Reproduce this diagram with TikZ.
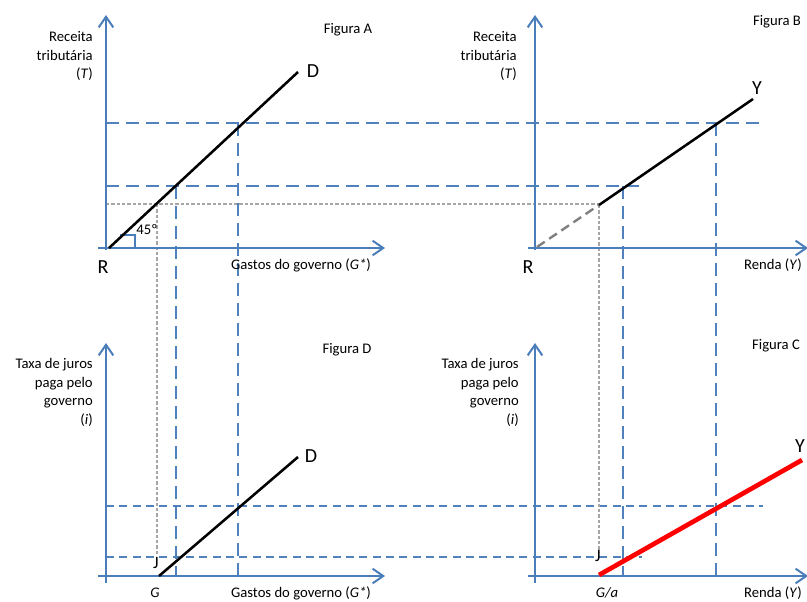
\documentclass[tikz,border=0pt]{standalone}
\usepackage{fontspec}
\setmainfont{Carlito}
\usetikzlibrary{arrows.meta}
\definecolor{axblue}{HTML}{4A7EBB}
\definecolor{dblue}{HTML}{4F81BD}
\definecolor{lgrey}{HTML}{A6A6A6}
\definecolor{mgrey}{HTML}{808080}
\begin{document}
\begin{tikzpicture}[x=0.75pt,y=-0.75pt,
  axis/.style={draw=axblue, line width=1.5pt, -{Straight Barb[length=8pt,width=11pt,line width=1.5pt]}},
  bdash/.style={draw=dblue, line width=1.1pt, dash pattern=on 10pt off 5pt},
  bdashs/.style={draw=dblue, line width=1.1pt, dash pattern=on 6pt off 4pt},
  gdot/.style={draw=lgrey, line width=0.8pt, dash pattern=on 2.5pt off 1.5pt},
  gdash/.style={draw=mgrey, line width=1.8pt, dash pattern=on 7pt off 4pt},
  curveb/.style={draw=black, line width=1.9pt},
  curver/.style={draw=red, line width=3.5pt},
  lbl/.style={font=\fontsize{11}{14}\selectfont, inner sep=0pt},
  big/.style={font=\fontsize{15}{18}\selectfont, inner sep=0pt},
  bigj/.style={font=\fontsize{13}{16}\selectfont, inner sep=0pt},
  ylab/.style={lbl, align=right, anchor=east},
  mark45/.style={draw=axblue, line width=1.1pt}
]
\useasboundingbox (0,0) rectangle (807,601);

% coordinates
\coordinate (Ab) at (106,250); \coordinate (At) at (106,15);
\coordinate (Al) at (98,248);  \coordinate (Ar) at (385,248);
\coordinate (Bb) at (535,250); \coordinate (Bt) at (535,15);
\coordinate (Bl) at (528,248); \coordinate (Br) at (808,248);
\coordinate (Db) at (106,583); \coordinate (Dt) at (106,343);
\coordinate (Dl) at (98,576);  \coordinate (Dr) at (385,576);
\coordinate (Cb) at (535,583); \coordinate (Ct) at (535,343);
\coordinate (Cl) at (528,576); \coordinate (Cr) at (808,576);

\coordinate (h1s) at (106,123); \coordinate (h1e) at (760,123);
\coordinate (h2s) at (106,186); \coordinate (h2e) at (642,186);
\coordinate (g1s) at (106,204); \coordinate (g1e) at (599,204);
\coordinate (h3s) at (106,506); \coordinate (h3e) at (763,506);
\coordinate (h4s) at (106,557); \coordinate (h4e) at (642,557);
\coordinate (v1s) at (176,186); \coordinate (v1e) at (176,576);
\coordinate (v2s) at (238,123); \coordinate (v2e) at (238,576);
\coordinate (v3s) at (623,186); \coordinate (v3e) at (623,576);
\coordinate (v4s) at (716,123); \coordinate (v4e) at (716,576);
\coordinate (g2s) at (157,204); \coordinate (g2e) at (157,555);
\coordinate (g3s) at (599,205); \coordinate (g3e) at (599,552);

\coordinate (dA0) at (109,248); \coordinate (dA1) at (298,72);
\coordinate (yB0) at (537,247); \coordinate (yB1) at (599,205); \coordinate (yB2) at (753,99);
\coordinate (dD0) at (159,576); \coordinate (dD1) at (298,457);
\coordinate (yC0) at (599,575); \coordinate (yC1) at (802,460);
\coordinate (m1) at (120,235); \coordinate (m2) at (135,235); \coordinate (m3) at (135,248);

% dashed guides
\draw[bdash] (h1s) -- (h1e);
\draw[bdash] (h2s) -- (h2e);
\draw[gdot] (g1s) -- (g1e);
\draw[bdashs] (h3s) -- (h3e);
\draw[bdashs] (h4s) -- (h4e);
\draw[bdash] (v1s) -- (v1e);
\draw[bdash] (v2s) -- (v2e);
\draw[bdash] (v3s) -- (v3e);
\draw[bdash] (v4s) -- (v4e);
\draw[gdot] (g2s) -- (g2e);
\draw[gdot] (g3s) -- (g3e);

% axes
\draw[axis] (Ab) -- (At);
\draw[axis] (Al) -- (Ar);
\draw[axis] (Bb) -- (Bt);
\draw[axis] (Bl) -- (Br);
\draw[axis] (Db) -- (Dt);
\draw[axis] (Dl) -- (Dr);
\draw[axis] (Cb) -- (Ct);
\draw[axis] (Cl) -- (Cr);

% 45 degree marker
\draw[mark45] (m1) -- (m2) -- (m3);

% curves
\draw[curveb] (dA0) -- (dA1);
\draw[gdash] (yB0) -- (yB1);
\draw[curveb] (yB1) -- (yB2);
\draw[curveb] (dD0) -- (dD1);
\draw[curver] (yC0) -- (yC1);

% texts
\node[ylab] (tA) at (93,56) {Receita\\tributária\\(\textit{T})};
\node[ylab] (tB) at (517,56) {Receita\\tributária\\(\textit{T})};
\node[ylab] (tD) at (93,392.5) {Taxa de juros\\paga pelo\\governo\\(\textit{i})};
\node[ylab] (tC) at (519,392.5) {Taxa de juros\\paga pelo\\governo\\(\textit{i})};

\node[lbl] (fA) at (348,30) {Figura A};
\node[lbl] (fB) at (777,22) {Figura B};
\node[lbl] (fD) at (347,350) {Figura D};
\node[lbl] (fC) at (776,346) {Figura C};

\node[lbl] (xA) at (301,265) {Gastos do governo (\textit{G*})};
\node[lbl] (xD) at (301,593) {Gastos do governo (\textit{G*})};
\node[lbl] (xB) at (773,265) {Renda (\textit{Y})};
\node[lbl] (xC) at (773,593) {Renda (\textit{Y})};

\node[lbl] (a45) at (147,230) {45º};
\node[lbl] (gD) at (155,593) {\textit{G}};
\node[lbl] (gC) at (607,593) {\textit{G/a}};

\node[big] (RA) at (103,267) {R};
\node[big] (RB) at (528,267) {R};
\node[big] (DA) at (313,71) {D};
\node[big] (DD) at (311,456) {D};
\node[big] (YB) at (757,88) {Y};
\node[big] (YC) at (800,446) {Y};
\node[bigj] (JD) at (156,563) {J};
\node[bigj] (JC) at (598,556) {J};
\end{tikzpicture}
\end{document}
